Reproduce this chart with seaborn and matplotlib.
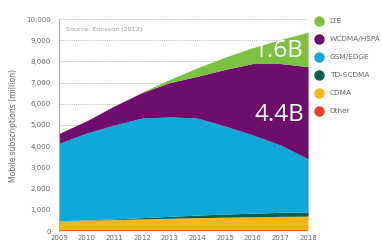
import matplotlib
matplotlib.use("Agg")
import matplotlib.pyplot as plt
from matplotlib.lines import Line2D
import seaborn as sns

years = [2009, 2010, 2011, 2012, 2013, 2014, 2015, 2016, 2017, 2018]
other = [60, 60, 60, 60, 60, 60, 60, 60, 60, 60]
cdma = [420, 450, 480, 510, 540, 570, 590, 610, 630, 640]
td_scdma = [5, 15, 30, 60, 90, 120, 150, 170, 190, 200]
gsm_edge = [3655, 4095, 4430, 4700, 4690, 4580, 4150, 3690, 3180, 2500]
wcdma_hspa = [460, 580, 900, 1200, 1620, 1970, 2670, 3370, 3840, 4350]
lte = [0, 0, 0, 20, 150, 400, 580, 750, 1130, 1630]

series_names = ["Other", "CDMA", "TD-SCDMA", "GSM/EDGE", "WCDMA/HSPA", "LTE"]
colors = {"LTE": "#7dc143", "WCDMA/HSPA": "#6e0d6b", "GSM/EDGE": "#10a8d8",
          "TD-SCDMA": "#0d5e4e", "CDMA": "#fcb614", "Other": "#e8442c"}
legend_order = ["LTE", "WCDMA/HSPA", "GSM/EDGE", "TD-SCDMA", "CDMA", "Other"]
y_ticks = list(range(0, 10001, 1000))
y_tick_labels = [f"{v:,}" for v in y_ticks]
annotations = [("1.6B", 2017.85, 8500), ("4.4B", 2017.85, 5470)]

sns.set_style("white")
plt.rcParams['font.family'] = ['DejaVu Sans']

fig = plt.figure(figsize=(3.82, 2.5), dpi=100)
ax = fig.add_axes([0.1545, 0.076, 0.652, 0.848])

for v in y_ticks[1:]:
    ax.axhline(v, color="#a8a8a8", linestyle=(0, (1, 1.2)), linewidth=0.6, zorder=0)

data = [other, cdma, td_scdma, gsm_edge, wcdma_hspa, lte]
ax.stackplot(years, *data, colors=[colors[n] for n in series_names],
             linewidth=0, zorder=2)

ax.set_xlim(2009, 2018)
ax.set_ylim(0, 10000)
ax.set_xticks(years)
ax.set_xticklabels([str(y) for y in years], fontsize=5, color="#666666")
ax.set_yticks(y_ticks)
ax.set_yticklabels(y_tick_labels, fontsize=5, color="#666666")
ax.tick_params(axis="both", length=0, pad=3)
ax.tick_params(axis="y", pad=6)
ax.set_ylabel("Mobile subscriptions (million)", fontsize=5.5, color="#666666", labelpad=6)

sns.despine(ax=ax, top=True, right=True, bottom=True, left=False)
ax.spines["left"].set_color("#aaaaaa")
ax.spines["left"].set_linewidth(0.8)
ax.spines["left"].set_zorder(3)

ax.text(2009.25, 9500, "Source: Ericsson (2012)", fontsize=4.6, color="#9a9a9a",
        va="center", ha="left", zorder=3)

for txt, x, y in annotations:
    ax.text(x, y, txt, fontsize=17.5, color="white", ha="right", va="center",
            family="Open Sans", zorder=4)

handles = [Line2D([0], [0], marker="o", linestyle="none", markersize=6.5,
                  markerfacecolor=colors[n], markeredgecolor=colors[n], label=n)
           for n in legend_order]
leg = fig.legend(handles=handles, loc="upper left", bbox_to_anchor=(0.808, 0.94),
                 frameon=False, fontsize=5.3, labelcolor="#666666",
                 handletextpad=0.45, labelspacing=1.62, borderaxespad=0)

fig.savefig("out.png", dpi=100)
